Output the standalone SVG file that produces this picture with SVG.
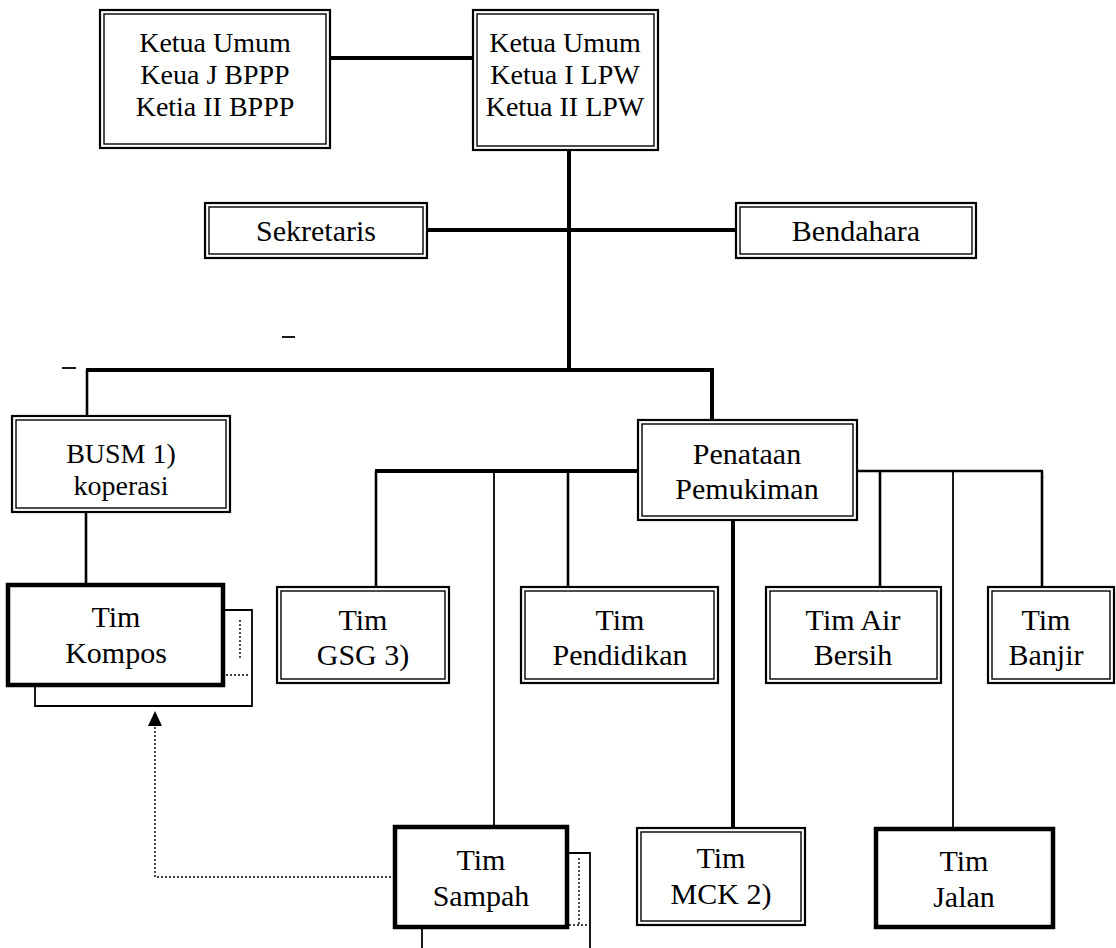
<svg xmlns="http://www.w3.org/2000/svg" width="1116" height="948" viewBox="0 0 1116 948">
<style>
.bg{fill:#fff}
.o{fill:#fff;stroke:#000;stroke-width:2.2}
.i{fill:none;stroke:#000;stroke-width:1.4}
.t{fill:#fff;stroke:#000;stroke-width:4.5}
.sh{fill:none;stroke:#000;stroke-width:1.8}
.dot{fill:none;stroke:#000;stroke-width:1.4;stroke-dasharray:2 2}
.th{stroke:#000;stroke-width:4;fill:none}
.md{stroke:#000;stroke-width:2.6;fill:none}
.tn{stroke:#000;stroke-width:1.8;fill:none}
text{font-family:"Liberation Serif","Times New Roman",serif;font-size:30px;fill:#000;text-anchor:middle}
.big{font-size:28px}
.sm{font-size:28px}
</style>
<rect class="bg" x="0" y="0" width="1116" height="948"/>
<g id="connectors">
<line class="th" x1="330" y1="58" x2="473" y2="58"/>
<line class="th" x1="569" y1="148" x2="569" y2="370"/>
<line class="th" x1="427" y1="230" x2="736" y2="230"/>
<line class="th" x1="86" y1="370" x2="714" y2="370"/>
<line class="md" x1="87" y1="370" x2="87" y2="416"/>
<line class="th" x1="712" y1="370" x2="712" y2="420"/>
<line class="md" x1="86" y1="512" x2="86" y2="585"/>
<line class="th" x1="375" y1="471" x2="638" y2="471"/>
<line class="md" x1="857" y1="471" x2="1043" y2="471"/>
<line class="md" x1="376" y1="471" x2="376" y2="587"/>
<line class="tn" x1="494" y1="471" x2="494" y2="827"/>
<line class="md" x1="568" y1="471" x2="568" y2="587"/>
<line class="th" x1="733" y1="520" x2="733" y2="828"/>
<line class="md" x1="880" y1="471" x2="880" y2="587"/>
<line class="tn" x1="953" y1="471" x2="953" y2="829"/>
<line class="md" x1="1042" y1="471" x2="1042" y2="587"/>
<polyline class="dot" points="395,877 155,877 155,724"/>
<polygon points="155,711 148,726 162,726" fill="#000"/>
<line class="tn" x1="282" y1="337" x2="295" y2="337"/>
<line class="tn" x1="62" y1="368" x2="76" y2="368"/>
</g>
<g id="n-ketua-bppp">
<rect class="o" x="100" y="10" width="230" height="138"/>
<rect class="i" x="104" y="14" width="222" height="130"/>
<text class="big" x="215" y="52">Ketua Umum</text>
<text class="big" x="215" y="84">Keua J BPPP</text>
<text class="big" x="215" y="116">Ketia II BPPP</text>
</g>
<g id="n-ketua-lpw">
<rect class="o" x="473" y="10" width="185" height="140"/>
<rect class="i" x="477" y="14" width="177" height="132"/>
<text class="big" x="565" y="52">Ketua Umum</text>
<text class="big" x="565" y="84">Ketua I LPW</text>
<text class="big" x="565" y="116">Ketua II LPW</text>
</g>
<g id="n-sekretaris">
<rect class="o" x="205" y="203" width="222" height="55"/>
<rect class="i" x="209" y="207" width="214" height="47"/>
<text x="316" y="241">Sekretaris</text>
</g>
<g id="n-bendahara">
<rect class="o" x="736" y="203" width="240" height="55"/>
<rect class="i" x="740" y="207" width="232" height="47"/>
<text x="856" y="241">Bendahara</text>
</g>
<g id="n-busm">
<rect class="o" x="12" y="416" width="218" height="96"/>
<rect class="i" x="16" y="420" width="210" height="88"/>
<text class="sm" x="121" y="463">BUSM 1)</text>
<text class="sm" x="121" y="495">koperasi</text>
</g>
<g id="n-penataan">
<rect class="o" x="638" y="420" width="219" height="100"/>
<rect class="i" x="642" y="424" width="211" height="92"/>
<text x="747" y="464">Penataan</text>
<text x="747" y="499">Pemukiman</text>
</g>
<g id="n-kompos">
<path class="sh" d="M223,610 H252 V706 H35 V685"/>
<line class="dot" x1="226" y1="675" x2="250" y2="675"/>
<line class="dot" x1="240" y1="620" x2="240" y2="660"/>
<rect class="t" x="8" y="585" width="215" height="100"/>
<text x="116" y="627">Tim</text>
<text x="116" y="663">Kompos</text>
</g>
<g id="n-gsg">
<rect class="o" x="277" y="587" width="172" height="96"/>
<rect class="i" x="281" y="591" width="164" height="88"/>
<text x="363" y="630">Tim</text>
<text x="363" y="665">GSG 3)</text>
</g>
<g id="n-pendidikan">
<rect class="o" x="521" y="587" width="197" height="96"/>
<rect class="i" x="525" y="591" width="189" height="88"/>
<text x="620" y="630">Tim</text>
<text x="620" y="665">Pendidikan</text>
</g>
<g id="n-air">
<rect class="o" x="766" y="587" width="175" height="96"/>
<rect class="i" x="770" y="591" width="167" height="88"/>
<text x="853" y="630">Tim Air</text>
<text x="853" y="665">Bersih</text>
</g>
<g id="n-banjir">
<rect class="o" x="988" y="587" width="126" height="96"/>
<rect class="i" x="992" y="591" width="118" height="88"/>
<text x="1046" y="630">Tim</text>
<text x="1046" y="665">Banjir</text>
</g>
<g id="n-sampah">
<path class="sh" d="M567,853 H590 V948"/>
<line class="sh" x1="422" y1="927" x2="422" y2="948"/>
<line class="dot" x1="579" y1="858" x2="579" y2="925"/>
<line class="dot" x1="569" y1="925" x2="589" y2="925"/>
<rect class="t" x="395" y="827" width="172" height="100"/>
<text x="481" y="870">Tim</text>
<text x="481" y="906">Sampah</text>
</g>
<g id="n-mck">
<rect class="o" x="637" y="828" width="168" height="97"/>
<rect class="i" x="641" y="832" width="160" height="89"/>
<text x="721" y="868">Tim</text>
<text x="721" y="904">MCK 2)</text>
</g>
<g id="n-jalan">
<rect class="t" x="876" y="829" width="177" height="98"/>
<text x="964" y="871">Tim</text>
<text x="964" y="907">Jalan</text>
</g>
</svg>
